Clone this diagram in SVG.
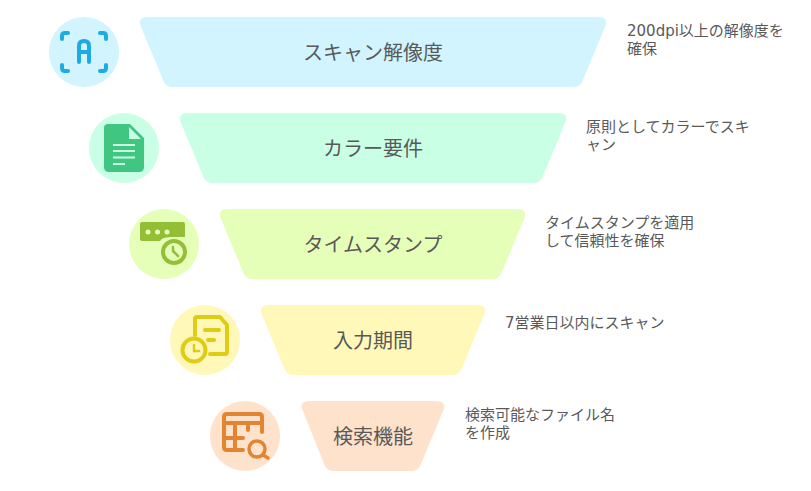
<svg xmlns="http://www.w3.org/2000/svg" width="811" height="491" viewBox="0 0 811 491">
<style>
.t{fill:#595959}
.h{font-family:"Noto Sans CJK JP","Noto Sans",sans-serif;font-size:20px;text-anchor:middle}
.d{font-family:"DejaVu Sans","Noto Sans CJK JP",sans-serif;font-size:15px}
.s{fill:none;stroke-linecap:round;stroke-linejoin:round}
</style>
<rect width="811" height="491" fill="#fff"/>
<g id="connectors"></g>
<g id="node1">
<circle cx="84" cy="52" r="35" fill="#d1f4ff"/>
<path class="s" stroke="#1eaae2" stroke-width="4" d="M62 39V36Q62 33 65 33H68M100 33H103Q106 33 106 36V39M62 65V68Q62 71 65 71H68M100 71H103Q106 71 106 68V65M79 62V46Q79 41 84 41Q89 41 89 46V62M79 52H89"/>
<path d="M148 17H598Q609 17 605 27L582.500 81Q580 87 573 87H173Q166 87 163.500 81L141 27Q137 17 148 17Z" fill="#d1f4ff"/>
<text class="t h" x="373" y="60">スキャン解像度</text>
<text class="t d" x="627" y="36">200dpi以上の解像度を</text>
<text class="t d" x="627" y="54">確保</text>
</g>
<g id="node2">
<circle cx="124" cy="148" r="35" fill="#c9ffe5"/>
<path d="M108 124H130L144 138V167Q144 172 139 172H109Q104 172 104 167V128Q104 124 108 124Z" fill="#40c680"/>
<path d="M129 127V139H141Z" fill="#c9ffe5"/>
<path stroke="#c9ffe5" stroke-width="2" fill="none" d="M113 145H135M113 151H135M113 157.500H135M113 164H125"/>
<path d="M188 113H558Q569 113 565 123L542.500 177Q540 183 533 183H213Q206 183 203.500 177L181 123Q177 113 188 113Z" fill="#c9ffe5"/>
<text class="t h" x="373" y="156">カラー要件</text>
<text class="t d" x="586" y="132">原則としてカラーでスキ</text>
<text class="t d" x="586" y="150">ャン</text>
</g>
<g id="node3">
<circle cx="164" cy="244" r="35" fill="#e6ffb8"/>
<path d="M142 222H183Q185 222 185 224V237H172Q162 237 160 241H142Q140 241 140 239V224Q140 222 142 222Z" fill="#93bf37"/>
<circle cx="148" cy="232" r="2.500" fill="#e6ffb8"/><circle cx="157.500" cy="232" r="2.500" fill="#e6ffb8"/><circle cx="167" cy="232" r="2.500" fill="#e6ffb8"/>
<circle cx="174" cy="252" r="11" fill="#e6ffb8" stroke="#93bf37" stroke-width="4"/>
<path class="s" stroke="#93bf37" stroke-width="2.500" d="M173 247V251L178 256"/>
<path d="M228 209H517Q528 209 524 219L501.500 273Q499 279 492 279H253Q246 279 243.500 273L221 219Q217 209 228 209Z" fill="#e6ffb8"/>
<text class="t h" x="373" y="252">タイムスタンプ</text>
<text class="t d" x="545" y="228">タイムスタンプを適用</text>
<text class="t d" x="545" y="246">して信頼性を確保</text>
</g>
<g id="node4">
<circle cx="205" cy="340" r="35" fill="#fff8b8"/>
<path class="s" stroke="#e0cb15" stroke-width="4" d="M195 335V319Q195 317 197 317H220L227 325V352Q227 354 225 354H210M205 330H219M208 340H214"/>
<circle cx="194" cy="350" r="11.500" fill="#fff8b8" stroke="#e0cb15" stroke-width="4"/>
<path class="s" stroke="#e0cb15" stroke-width="2.500" d="M194 345V351H199"/>
<path d="M269 305H477Q488 305 484 315L461.500 369Q459 375 452 375H294Q287 375 284.500 369L262 315Q258 305 269 305Z" fill="#fff8b8"/>
<text class="t h" x="373" y="348">入力期間</text>
<text class="t d" x="505" y="328">7営業日以内にスキャン</text>
</g>
<g id="node5">
<circle cx="245" cy="436" r="35" fill="#ffe2cc"/>
<path class="s" stroke="#e28430" stroke-width="4" d="M243 450H227Q224 450 224 447V417Q224 414 227 414H259Q262 414 262 417V432M224 423H262M224 438H243M235 423V450M248 423V430"/>
<circle cx="257" cy="449" r="8" fill="#ffe2cc" stroke="#e28430" stroke-width="3.500"/>
<path class="s" stroke="#e28430" stroke-width="3.500" d="M263 455L268 458"/>
<path d="M310 401H435Q448 401 443 411L420.500 465Q418 471 411 471H334Q327 471 324.500 465L303 411Q298 401 310 401Z" fill="#ffe2cc"/>
<text class="t h" x="373" y="444">検索機能</text>
<text class="t d" x="465" y="420">検索可能なファイル名</text>
<text class="t d" x="465" y="438">を作成</text>
</g>
</svg>
